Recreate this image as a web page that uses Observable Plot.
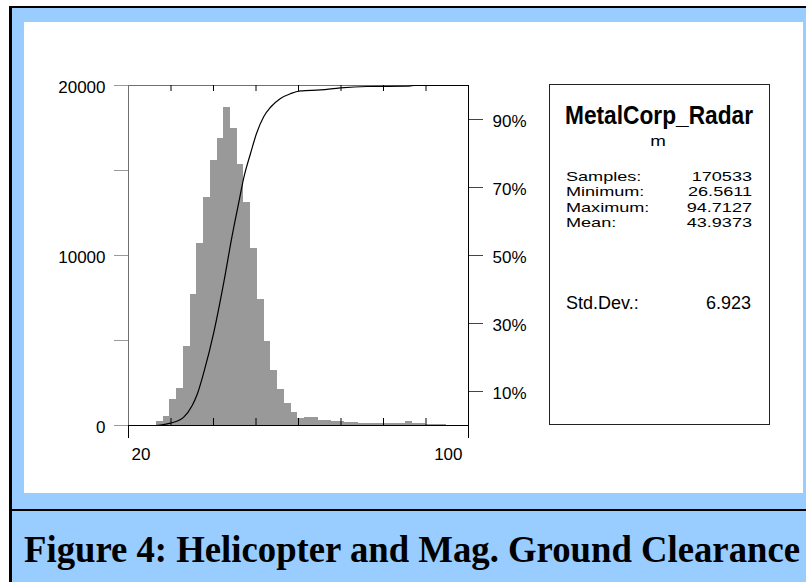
<!DOCTYPE html>
<html>
<head>
<meta charset="utf-8">
<script src="https://cdn.jsdelivr.net/npm/d3@7"></script>
<script src="https://cdn.jsdelivr.net/npm/@observablehq/plot@0.6"></script>
<style>
html, body { margin: 0; padding: 0; background: #fff; }
#page { position: relative; width: 806px; height: 582px; overflow: hidden; }
#outer { position: absolute; left: 9px; top: 6px; width: 820px; height: 600px; background: #99ccff; border-left: 3px solid #000; border-top: 2px solid #000; }
#panel { position: absolute; left: 24px; top: 22px; width: 779px; height: 471px; background: #fff; }
#sep { position: absolute; left: 9px; top: 509px; width: 820px; height: 2px; background: #000; }
#chart { position: absolute; left: 0; top: 0; }
#over { position: absolute; left: 0; top: 0; }
</style>
</head>
<body>
<div id="page">
  <div id="outer"></div>
  <div id="panel"></div>
  <div id="sep"></div>
  <div id="chart"></div>
  <div id="over"></div>
</div>
<script>
// ---- data ----
const binEdges = [26.56, 28.15, 29.73, 31.32, 32.90, 34.49, 36.07, 37.66, 39.24, 40.83,
  42.41, 44.00, 45.58, 47.17, 48.75, 50.34, 51.92, 53.51, 55.09, 56.68,
  58.26, 59.85, 61.43, 63.02, 64.60, 66.19, 67.77, 69.36, 70.94, 72.52,
  74.11, 75.69, 77.28, 78.86, 80.45, 82.03, 83.62, 85.20, 86.79, 88.37,
  89.96, 91.54, 93.13, 94.71];
const counts = [235, 530, 1510, 2160, 4650, 7700, 10730, 13390, 15590, 16900,
  18690, 17500, 15370, 13140, 10430, 7410, 4960, 3235, 2100, 1275,
  745, 400, 450, 450, 300, 300, 260, 260, 200, 200,
  140, 140, 140, 140, 140, 140, 140, 235, 140, 140,
  60, 60, 60];
const cdfX   = [20, 26.35, 29.88, 31.53, 32.94, 34.99, 36.24, 37.72, 40.07, 42.42, 44.40, 45.95, 47.13, 48.71, 50.12, 51.84, 53.41, 55.76, 58.12, 60.47, 65.18, 69.88, 76.16, 85.58, 87.13, 100];
const cdfPct = [0, 0, 0.7, 1.3, 2.4, 5.9, 9.4, 15.6, 27.4, 42.1, 55.9, 65.6, 72.9, 80.0, 85.9, 90.9, 93.6, 96.2, 97.6, 98.4, 98.7, 99.3, 99.7, 99.8, 100, 100];
const yTicks = [0, 5000, 10000, 15000, 20000];
const yLabels = [0, 10000, 20000];
const xEdgeTicks = [20, 100];
const xInnerTicks = [30, 40, 50, 60, 70, 80, 90];
const pctTicks = [10, 30, 50, 70, 90];
const seriesName = "MetalCorp_Radar";
const unitName = "m";
const statLabels = ["Samples:", "Minimum:", "Maximum:", "Mean:"];
const statValues = ["170533", "26.5611", "94.7127", "43.9373"];
const sdLabel = "Std.Dev.:";
const sdValue = "6.923";
const captionText = "Figure 4: Helicopter and Mag. Ground Clearance";

// ---- chart ----
const bins = counts.map((c, i) => ({x0: binEdges[i], x1: binEdges[i + 1], count: c}));
const cdf = cdfX.map((x, i) => ({x, pct: cdfPct[i]}));
const K = 20000 / 100; // percent -> count units (right axis)

const chart = Plot.plot({
  width: 540, height: 480,
  marginLeft: 128, marginRight: 72, marginTop: 85, marginBottom: 55,
  x: {domain: [20, 100]},
  y: {domain: [0, 20000]},
  style: {background: "transparent", fontFamily: '"Liberation Sans", Arial, sans-serif', fontSize: "17px", color: "#000", overflow: "visible"},
  marks: [
    Plot.rectY(bins, {x1: "x0", x2: "x1", y: "count", fill: "#999999", shapeRendering: "crispEdges"}),
    Plot.ruleX([20], {stroke: "#707070"}),
    Plot.ruleY([20000], {stroke: "#707070"}),
    Plot.ruleX([100], {stroke: "#000"}),
    Plot.ruleY([0], {stroke: "#000"}),
    Plot.ruleX(xInnerTicks, {insetTop: 333, stroke: "#000"}),
    Plot.ruleX(xInnerTicks, {insetBottom: 334, stroke: "#000"}),
    Plot.axisX(xEdgeTicks, {tickSize: 13, fill: "none", stroke: "#000", label: null}),
    Plot.axisX([xEdgeTicks[0]], {tickSize: 0, tickPadding: 22, textAnchor: "start", dx: 3, label: null, tickFormat: d => String(d)}),
    Plot.axisX([xEdgeTicks[1]], {tickSize: 0, tickPadding: 22, textAnchor: "end", dx: -6, label: null, tickFormat: d => String(d)}),
    Plot.axisY(yTicks, {tickSize: 14, stroke: "#9a9a9a", fill: "none", label: null}),
    Plot.axisY(yLabels, {tickSize: 0, tickPadding: 23, dy: 2, label: null, tickFormat: d => String(d)}),
    Plot.axisY(pctTicks.map(p => p * K), {anchor: "right", tickSize: 14, stroke: "#444", fill: "none", label: null}),
    Plot.axisY(pctTicks.map(p => p * K), {anchor: "right", tickSize: 0, tickPadding: 24, dy: 2, label: null, tickFormat: d => (d / K) + "%"}),
    Plot.line(cdf, {x: "x", y: d => d.pct * K, stroke: "#000", strokeWidth: 1.2, curve: "monotone-x"})
  ]
});
document.getElementById("chart").appendChild(chart);

// ---- statistics box and caption ----
const svg = d3.select("#over").append("svg")
  .attr("width", 806).attr("height", 582)
  .style("font-family", '"Liberation Sans", Arial, sans-serif');

svg.append("rect")
  .attr("x", 549.5).attr("y", 84.5).attr("width", 220).attr("height", 340)
  .attr("fill", "#fff").attr("stroke", "#222").attr("stroke-width", 1);

svg.append("text")
  .attr("x", 659).attr("y", 124)
  .attr("text-anchor", "middle").attr("font-weight", "bold").attr("font-size", 26)
  .attr("textLength", 188).attr("lengthAdjust", "spacingAndGlyphs")
  .text(seriesName);

svg.append("text")
  .attr("transform", "translate(658,146) scale(1.25,1)")
  .attr("text-anchor", "middle").attr("font-size", 15)
  .text(unitName);

statLabels.forEach((lab, i) => {
  const y = 181 + i * 15.3;
  svg.append("text")
    .attr("transform", `translate(566,${y}) scale(1.36,1)`)
    .attr("font-size", 13.3).text(lab);
  svg.append("text")
    .attr("transform", `translate(752,${y}) scale(1.36,1)`)
    .attr("text-anchor", "end").attr("font-size", 13.3).text(statValues[i]);
});

svg.append("text").attr("x", 566).attr("y", 309).attr("font-size", 18).text(sdLabel);
svg.append("text").attr("x", 751).attr("y", 309).attr("font-size", 18).attr("text-anchor", "end").text(sdValue);

svg.append("text")
  .attr("x", 24).attr("y", 562)
  .attr("font-family", '"Liberation Serif", "Times New Roman", serif')
  .attr("font-weight", "bold").attr("font-size", 37)
  .attr("textLength", 776).attr("lengthAdjust", "spacingAndGlyphs")
  .text(captionText);
</script>
</body>
</html>
